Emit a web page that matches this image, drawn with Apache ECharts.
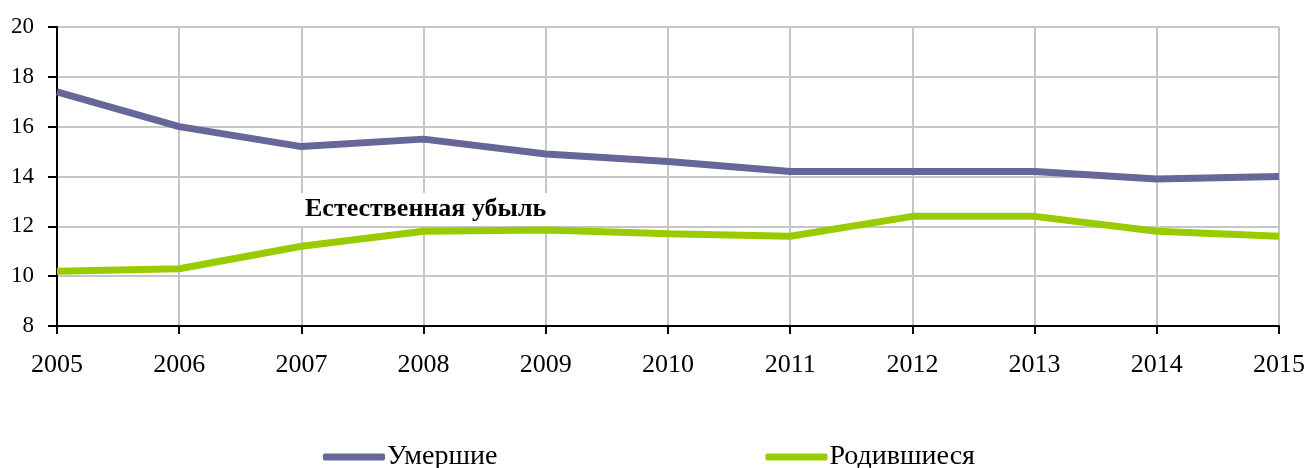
<!DOCTYPE html>
<html>
<head>
<meta charset="utf-8">
<script src="https://cdn.jsdelivr.net/npm/echarts@6/dist/echarts.min.js"></script>
<style>
  html, body { margin: 0; padding: 0; background: #fff; }
  #chart { width: 1308px; height: 468px; }
</style>
</head>
<body>
<div id="chart"></div>
<script>
// годы
const years = ['2005', '2006', '2007', '2008', '2009', '2010', '2011', '2012', '2013', '2014', '2015']
// на 1000 населения
const died = [17.4, 16.0, 15.2, 15.5, 14.9, 14.6, 14.2, 14.2, 14.2, 13.9, 14.0]
const born = [10.2, 10.3, 11.2, 11.8, 11.85, 11.7, 11.6, 12.4, 12.4, 11.8, 11.6]

const font = '"Liberation Serif", "Times New Roman", serif'

const chart = echarts.init(document.getElementById('chart'))
chart.setOption({
  animation: false,
  grid: { left: 57, right: 28, top: 27, bottom: 142 },
  legend: {
    top: 438,
    left: 318,
    itemGap: 268,
    itemWidth: 62,
    itemHeight: 7,
    icon: 'roundRect',
    textStyle: { fontFamily: font, fontSize: 28, color: '#000', padding: [0, 0, 0, -3] },
    data: ['Умершие', 'Родившиеся']
  },
  xAxis: {
    type: 'category',
    data: years,
    boundaryGap: false,
    axisLine: { lineStyle: { color: '#000', width: 2 } },
    axisTick: { show: true, length: 8, lineStyle: { color: '#000', width: 2 } },
    axisLabel: { fontFamily: font, fontSize: 26, color: '#000', margin: 26 },
    splitLine: { show: true, lineStyle: { color: '#c6c6c6', width: 2 } }
  },
  yAxis: {
    type: 'value',
    min: 8,
    max: 20,
    interval: 2,
    axisLine: { show: true, lineStyle: { color: '#000', width: 2 } },
    axisTick: { show: true, length: 9, lineStyle: { color: '#000', width: 2 } },
    axisLabel: { fontFamily: font, fontSize: 23, color: '#000', margin: 23 },
    splitLine: { show: true, lineStyle: { color: '#c6c6c6', width: 2 } }
  },
  graphic: [
    {
      // подпись между линиями
      type: 'text',
      left: 298,
      top: 193,
      z: 100,
      style: {
        text: 'Естественная убыль',
        font: 'bold 26px ' + font,
        fill: '#000',
        backgroundColor: '#fff',
        padding: [3, 14, 4, 7]
      }
    }
  ],
  series: [
    {
      name: 'Умершие',
      type: 'line',
      data: died,
      symbol: 'none',
      lineStyle: { color: '#666699', width: 7 },
      itemStyle: { color: '#666699' }
    },
    {
      name: 'Родившиеся',
      type: 'line',
      data: born,
      symbol: 'none',
      lineStyle: { color: '#99cc00', width: 7 },
      itemStyle: { color: '#99cc00' }
    }
  ]
})
</script>
</body>
</html>
